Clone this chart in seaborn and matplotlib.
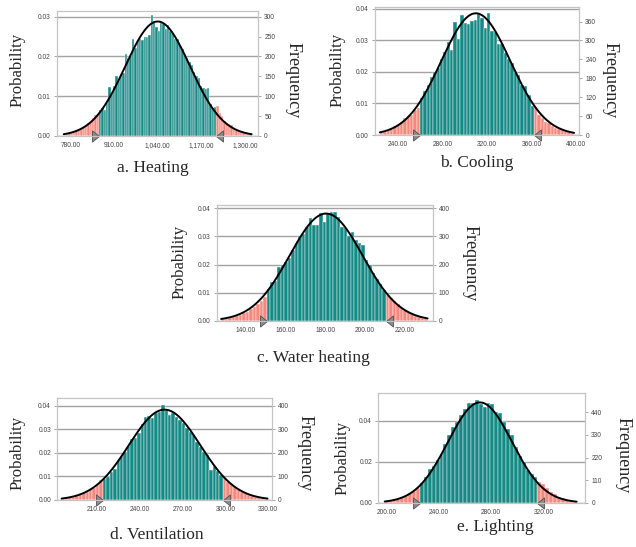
import numpy as np
import pandas as pd
import matplotlib
matplotlib.use("Agg")
import matplotlib.pyplot as plt
import seaborn as sns
from matplotlib.ticker import FuncFormatter

W, H = 636, 547
TRIALS = 10000
TEAL = "#178985"
SALMON = "#f4887c"

# ---- data: frequency per bin (10,000 trials), bin start / width, certainty cut-offs, fitted normal ----
heat_start, heat_width = 760, 7
heat_counts = [3, 5, 7, 8, 10, 14, 15, 20, 22, 28,
               32, 38, 45, 52, 55, 66, 70, 65, 82, 122,
               105, 125, 150, 140, 155, 158, 205, 195, 200, 245,
               222, 240, 245, 242, 248, 250, 255, 305, 290, 275,
               265, 285, 282, 270, 278, 265, 258, 245, 243, 228,
               218, 205, 195, 185, 178, 160, 150, 145, 125, 120,
               118, 120, 80, 70, 72, 75, 58, 50, 38, 33,
               30, 28, 20, 14, 12, 10, 8, 6, 5, 4]
heat_cut = (865, 1215)
heat_fit = (1040, 97)
heat_xticks = [780, 910, 1040, 1170, 1300]
heat_prob_ticks = [0.0, 0.01, 0.02, 0.03]
heat_freq_ticks = [0, 50, 100, 150, 200, 250, 300]

cool_start, cool_width = 224, 3
cool_counts = [5, 8, 15, 20, 30, 32, 40, 53, 60, 63,
               78, 85, 116, 140, 160, 185, 200, 212, 240, 262,
               296, 270, 357, 305, 380, 355, 352, 362, 365, 385,
               370, 340, 386, 330, 328, 290, 290, 260, 240, 228,
               200, 190, 160, 156, 127, 92, 88, 63, 55, 42,
               38, 28, 22, 20, 15, 12, 8, 5]
cool_cut = (260, 362)
cool_fit = (310, 31)
cool_xticks = [240, 280, 320, 360, 400]
cool_prob_ticks = [0.0, 0.01, 0.02, 0.03, 0.04]
cool_freq_ticks = [0, 60, 120, 180, 240, 300, 360]

water_start, water_width = 128, 1.75
water_counts = [5, 6, 9, 12, 16, 20, 26, 32, 40, 48,
                60, 70, 85, 112, 138, 140, 190, 198, 210, 225,
                252, 278, 300, 310, 335, 365, 340, 342, 382, 352,
                382, 388, 388, 370, 335, 330, 300, 315, 287, 275,
                270, 216, 198, 169, 150, 131, 110, 90, 80, 70,
                60, 45, 38, 30, 24, 17, 13, 10, 5]
water_cut = (150.75, 210.25)
water_fit = (180.5, 18.3)
water_xticks = [140, 160, 180, 200, 220]
water_prob_ticks = [0.0, 0.01, 0.02, 0.03, 0.04]
water_freq_ticks = [0, 100, 200, 300, 400]

vent_start, vent_width = 185.5, 2.4
vent_counts = [5, 7, 10, 14, 17, 22, 28, 35, 45, 52,
               62, 85, 90, 99, 120, 130, 170, 185, 205, 229,
               260, 262, 285, 320, 353, 356, 346, 367, 375, 403,
               382, 360, 370, 353, 340, 325, 304, 290, 276, 247,
               226, 205, 190, 127, 144, 125, 108, 92, 78, 66,
               57, 45, 35, 28, 21, 17, 12, 10, 7, 5]
vent_cut = (214.3, 298.3)
vent_fit = (257.5, 25)
vent_xticks = [210, 240, 270, 300, 330]
vent_prob_ticks = [0.0, 0.01, 0.02, 0.03, 0.04]
vent_freq_ticks = [0, 100, 200, 300, 400]

light_start, light_width = 198.5, 3
light_counts = [6, 8, 12, 17, 26, 33, 45, 58, 72, 95,
                125, 165, 180, 210, 237, 285, 330, 370, 395, 428,
                455, 488, 485, 500, 482, 468, 485, 480, 444, 436,
                395, 360, 330, 273, 228, 200, 160, 140, 127, 100,
                90, 70, 50, 42, 30, 22, 15, 10, 7]
light_cut = (225.5, 315.5)
light_fit = (271.5, 24.5)
light_xticks = [200, 240, 280, 320]
light_prob_ticks = [0.0, 0.02, 0.04]
light_freq_ticks = [0, 110, 220, 330, 440]

captions = ["a. Heating", "b. Cooling", "c. Water heating", "d. Ventilation", "e. Lighting"]

sns.set_style("white")
plt.rcParams["font.family"] = ["Liberation Sans", "DejaVu Sans"]
SERIF = ["Liberation Serif", "DejaVu Serif"]

fig = plt.figure(figsize=(W / 100, H / 100), dpi=100)

RIGHT_TRI = [(0, 0), (-1, 0.8), (-1, -0.8), (0, 0)]
LEFT_TRI = [(0, 0), (1, 0.8), (1, -0.8), (0, 0)]


def fx(x):
    return x / W


def fy(y):
    return 1 - y / H


def style_axis(a):
    for s in a.spines.values():
        s.set_color("#c4c4c4")
        s.set_linewidth(0.8)
    a.tick_params(labelsize=4.8, labelcolor="#444444", length=2.5, width=0.6,
                  color="#9a9a9a", pad=2)


def draw_panel(box, start, width, counts, cut, fit, xlim, ytop,
               xticks, prob_ticks, freq_ticks, caption, cap_xy, prob_xy, freq_xy):
    left, top, right, bottom = box
    ax = fig.add_axes([fx(left), fy(bottom), (right - left) / W, (bottom - top) / H])
    counts = np.asarray(counts, float)
    edges = start + width * np.arange(len(counts) + 1)
    centers = edges[:-1] + width / 2
    part = np.where((centers < cut[0]) | (centers > cut[1]), "tail", "body")
    df = pd.DataFrame({"value": centers, "prob": counts / TRIALS, "part": part})
    sns.histplot(data=df, x="value", weights="prob", bins=list(edges), hue="part",
                 hue_order=["body", "tail"], palette={"body": TEAL, "tail": SALMON},
                 multiple="layer", alpha=1, edgecolor="white", linewidth=0.3,
                 legend=False, ax=ax, zorder=2)

    # fitted normal curve, scaled to probability per bin
    mu, sd = fit
    xs = np.linspace(edges[0], edges[-1], 300)
    ys = width / (sd * np.sqrt(2 * np.pi)) * np.exp(-0.5 * ((xs - mu) / sd) ** 2)
    sns.lineplot(x=xs, y=ys, color="black", lw=1.4, ax=ax, zorder=3)

    # certainty grabbers
    ax.plot([cut[0]], [0], marker=RIGHT_TRI, ms=10, color="#8c8c8c", mec="#505050",
            mew=0.6, clip_on=False, zorder=6, ls="none")
    ax.plot([cut[1]], [0], marker=LEFT_TRI, ms=10, color="#8c8c8c", mec="#505050",
            mew=0.6, clip_on=False, zorder=6, ls="none")

    ax.set_xlim(*xlim)
    ax.set_ylim(0, ytop)
    ax.set_xticks(xticks)
    ax.xaxis.set_major_formatter(FuncFormatter(lambda v, p: f"{v:,.2f}"))
    ax.set_yticks(prob_ticks)
    ax.yaxis.set_major_formatter(FuncFormatter(lambda v, p: f"{v:.2f}"))
    ax.set_axisbelow(True)
    ax.yaxis.grid(True, color="#a2a2a2", lw=1.0)
    ax.set_xlabel("")
    ax.set_ylabel("")
    style_axis(ax)

    ax2 = ax.twinx()
    ax2.set_ylim(0, ytop * TRIALS)
    ax2.set_yticks(freq_ticks)
    ax2.grid(False)
    style_axis(ax2)

    fig.text(fx(cap_xy[0]), fy(cap_xy[1]), caption, ha="center", va="center",
             family=SERIF, size=12.5)
    fig.text(fx(prob_xy[0]), fy(prob_xy[1]), "Probability", rotation=90,
             ha="center", va="center", family=SERIF, size=12)
    fig.text(fx(freq_xy[0]), fy(freq_xy[1]), "Frequency", rotation=270,
             ha="center", va="center", family=SERIF, size=13)


draw_panel((57, 10.7, 258, 136), heat_start, heat_width, heat_counts, heat_cut, heat_fit,
           (740, 1339), 0.0315, heat_xticks, heat_prob_ticks, heat_freq_ticks,
           captions[0], (153, 168), (18, 70), (293, 80))
draw_panel((375, 6.7, 579, 135), cool_start, cool_width, cool_counts, cool_cut, cool_fit,
           (219.7, 402.4), 0.0407, cool_xticks, cool_prob_ticks, cool_freq_ticks,
           captions[1], (477, 163), (338, 70), (610, 80))
draw_panel((216.7, 205, 432.7, 320.7), water_start, water_width, water_counts, water_cut,
           water_fit, (125.8, 233.8), 0.0412, water_xticks, water_prob_ticks,
           water_freq_ticks, captions[2], (313, 358), (180, 262), (470, 263))
draw_panel((57.3, 398.3, 271.7, 500), vent_start, vent_width, vent_counts, vent_cut,
           vent_fit, (182.5, 332.4), 0.0431, vent_xticks, vent_prob_ticks,
           vent_freq_ticks, captions[3], (157, 535), (18, 453), (305, 453))
draw_panel((378.3, 393.3, 585, 502.7), light_start, light_width, light_counts, light_cut,
           light_fit, (193.6, 351.9), 0.0533, light_xticks, light_prob_ticks,
           light_freq_ticks, captions[4], (495, 527), (343, 458), (623, 455))

fig.savefig("out.png", dpi=100)
